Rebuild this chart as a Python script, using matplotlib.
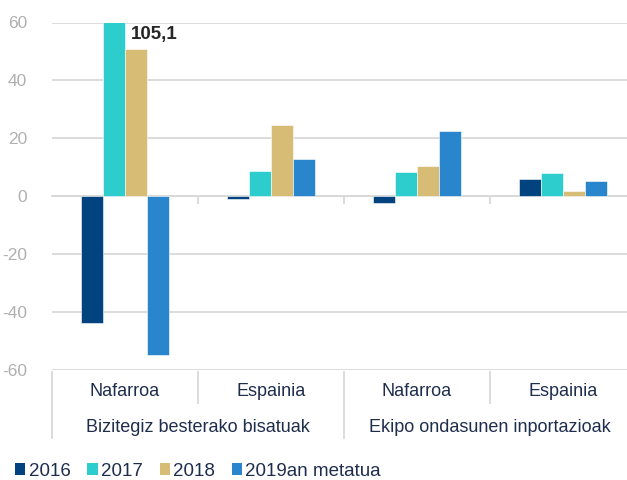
import numpy as np
import matplotlib
matplotlib.use('Agg')
import matplotlib.pyplot as plt
import matplotlib.transforms as mtransforms
from matplotlib.patches import Patch

plt.rcParams['font.family'] = ['Liberation Sans', 'DejaVu Sans']

regions = ['Nafarroa', 'Espainia', 'Nafarroa', 'Espainia']
groups = ['Bizitegiz besterako bisatuak', 'Ekipo ondasunen inportazioak']
series = ['2016', '2017', '2018', '2019an metatua']
v2016 = [-43.8, -1.0, -2.5, 5.9]
v2017 = [105.1, 8.6, 8.4, 8.0]
v2018 = [50.9, 24.6, 10.5, 1.7]
v2019 = [-54.8, 12.7, 22.4, 5.2]
colors = ['#00437F', '#2ECDCD', '#D6BC75', '#2A86CC']
yticks = [-60, -40, -20, 0, 20, 40, 60]

W, H = 627, 480
fig = plt.figure(figsize=(W/100, H/100), dpi=100)
ax_top, ax_bot = 22.5, 370.0
ax = fig.add_axes([52/W, 1-ax_bot/H, 584/W, (ax_bot-ax_top)/H])

x = np.arange(len(regions))
w = 0.149
for i, (vals, c) in enumerate(zip([v2016, v2017, v2018, v2019], colors)):
    ax.bar(x + (i-1.5)*w, vals, w, color=c, edgecolor='white', linewidth=0.4, zorder=3)

ax.set_xlim(-0.5, 3.5)
ax.set_ylim(-60, 60)
ax.set_yticks(yticks)
ax.set_yticklabels([str(t) for t in yticks])
ax.grid(axis='y', color='#D9D9D9', linewidth=1.3, zorder=0)
ax.tick_params(axis='y', length=0, pad=18, labelsize=12.5, labelcolor='#B0B0B0')

for s in ['left', 'right', 'top']:
    ax.spines[s].set_visible(False)
ax.spines['bottom'].set_position(('data', 0))
ax.spines['bottom'].set_color('#D9D9D9')
ax.spines['bottom'].set_linewidth(1.3)
ax.spines['bottom'].set_zorder(2)
ax.set_xticks([0.5, 1.5, 2.5])
ax.set_xticklabels([])
ax.tick_params(axis='x', length=6, width=1.3, color='#D9D9D9', direction='out')

# value label for the bar that runs off the top
label = '{:.1f}'.format(v2017[0]).replace('.', ',')
ax.text(0.04, 56, label, ha='left', va='center', fontsize=13.5,
        fontweight='bold', color='#262626')

# two-level category table under the plot
trans = mtransforms.blended_transform_factory(ax.transData, ax.transAxes)
span = ax_bot - ax_top
def yax(py):
    return (ax_bot - py) / span

lc = '#D9D9D9'
for b in [-0.5, 1.5, 3.5]:
    ax.plot([b, b], [yax(372), yax(438)], color=lc, lw=1.3, transform=trans, clip_on=False)
for b in [0.5, 2.5]:
    ax.plot([b, b], [yax(372), yax(403)], color=lc, lw=1.3, transform=trans, clip_on=False)

tc = '#1F2D4D'
for xi, r in zip(x, regions):
    ax.text(xi, yax(392), r, transform=trans, ha='center', va='center', fontsize=13, color=tc)
for gi, g in enumerate(groups):
    ax.text(2*gi + 0.5, yax(428), g, transform=trans, ha='center', va='center', fontsize=13, color=tc)

handles = [Patch(facecolor=c, edgecolor='none') for c in colors]
fig.legend(handles, series, ncol=4, loc='center left', bbox_to_anchor=(15/W, 1-471/H),
           frameon=False, fontsize=13.5, handlelength=0.55, handleheight=0.55,
           handletextpad=0.17, columnspacing=0.9, borderaxespad=0, borderpad=0,
           labelcolor=tc)

fig.savefig('out.png', dpi=100)
